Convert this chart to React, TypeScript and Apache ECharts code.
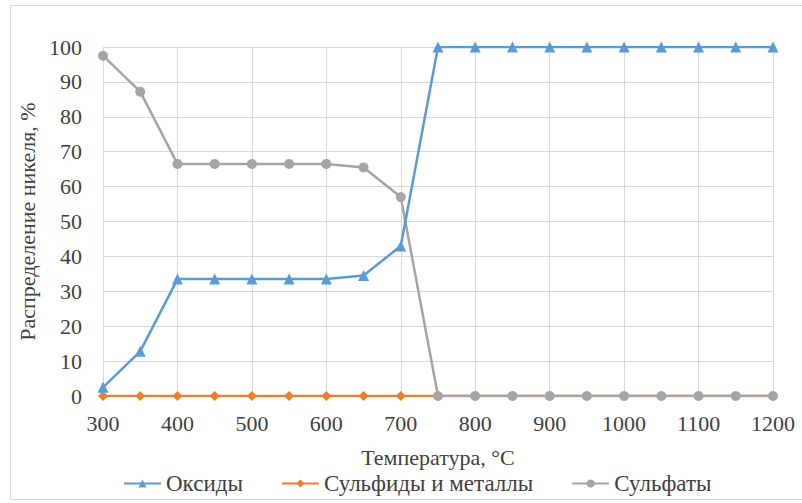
import React, { useEffect, useRef } from "react";
import * as echarts from "echarts";

const temperatures = [300, 350, 400, 450, 500, 550, 600, 650, 700, 750, 800, 850, 900, 950, 1000, 1050, 1100, 1150, 1200];
const oxides = [2.5, 12.8, 33.5, 33.5, 33.5, 33.5, 33.5, 34.5, 43, 100, 100, 100, 100, 100, 100, 100, 100, 100, 100];
const sulfides = [0, 0, 0, 0, 0, 0, 0, 0, 0, 0, 0, 0, 0, 0, 0, 0, 0, 0, 0];
const sulfates = [97.5, 87.2, 66.5, 66.5, 66.5, 66.5, 66.5, 65.5, 57, 0, 0, 0, 0, 0, 0, 0, 0, 0, 0];
const seriesNames = ["Оксиды", "Сульфиды и металлы", "Сульфаты"];
const xTitle = "Температура, °C";
const yTitle = "Распределение никеля, %";

const FONT = "Liberation Serif";
const TEXT = "#404040";
const FS = 22;

export default function App() {
  const ref = useRef<HTMLDivElement>(null);
  useEffect(() => {
    if (!ref.current) return;
    const chart = echarts.init(ref.current, null, { renderer: "svg" });
    const pairs = (vals: number[]) => temperatures.map((t, i) => [t, vals[i]]);
    chart.setOption({
      animation: false,
      backgroundColor: "#ffffff",
      textStyle: { fontFamily: FONT },
      grid: { left: 103, right: 29, top: 47, bottom: 107, containLabel: false },
      graphic: [
        {
          type: "rect",
          shape: { x: 10.5, y: 5.5, width: 800, height: 494 },
          style: { fill: "none", stroke: "#d9d9d9", lineWidth: 1 },
          silent: true,
          z: -10,
        },
      ],
      legend: {
        left: 118,
        top: 467,
        itemWidth: 37,
        itemHeight: 10,
        itemGap: 38,
        textStyle: { fontFamily: FONT, fontSize: 23, color: TEXT },
        data: seriesNames,
      },
      xAxis: {
        type: "value",
        min: 300,
        max: 1200,
        interval: 100,
        name: xTitle,
        nameLocation: "middle",
        nameGap: 50,
        nameTextStyle: { fontFamily: FONT, fontSize: FS, color: TEXT },
        axisLine: { show: false },
        axisTick: { show: false },
        axisLabel: { fontFamily: FONT, fontSize: FS, color: TEXT, margin: 16, formatter: (v: number) => String(v) },
        splitLine: { show: true, lineStyle: { color: "#d9d9d9", width: 1 } },
      },
      yAxis: {
        type: "value",
        min: 0,
        max: 100,
        interval: 10,
        name: yTitle,
        nameLocation: "middle",
        nameGap: 64,
        nameTextStyle: { fontFamily: FONT, fontSize: FS, color: TEXT },
        axisLine: { show: false },
        axisTick: { show: false },
        axisLabel: { fontFamily: FONT, fontSize: FS, color: TEXT, margin: 21, formatter: (v: number) => String(v) },
        splitLine: { show: true, lineStyle: { color: "#d9d9d9", width: 1 } },
      },
      series: [
        {
          name: seriesNames[0],
          type: "line",
          data: pairs(oxides),
          symbol: "triangle",
          symbolSize: 11,
          itemStyle: { color: "#5b9bd5" },
          lineStyle: { color: "#5b9bd5", width: 2.5 },
          z: 4,
        },
        {
          name: seriesNames[1],
          type: "line",
          data: pairs(sulfides),
          symbol: "diamond",
          symbolSize: 10,
          itemStyle: { color: "#ed7d31" },
          lineStyle: { color: "#ed7d31", width: 2.5 },
          z: 2,
        },
        {
          name: seriesNames[2],
          type: "line",
          data: pairs(sulfates),
          symbol: "circle",
          symbolSize: 10,
          itemStyle: { color: "#a5a5a5" },
          lineStyle: { color: "#a5a5a5", width: 2.5 },
          z: 3,
        },
      ],
    });
    return () => chart.dispose();
  }, []);
  return (
    <div
      ref={ref}
      style={{ position: "fixed", left: 0, top: 0, width: 802, height: 503, background: "#fff" }}
    />
  );
}
